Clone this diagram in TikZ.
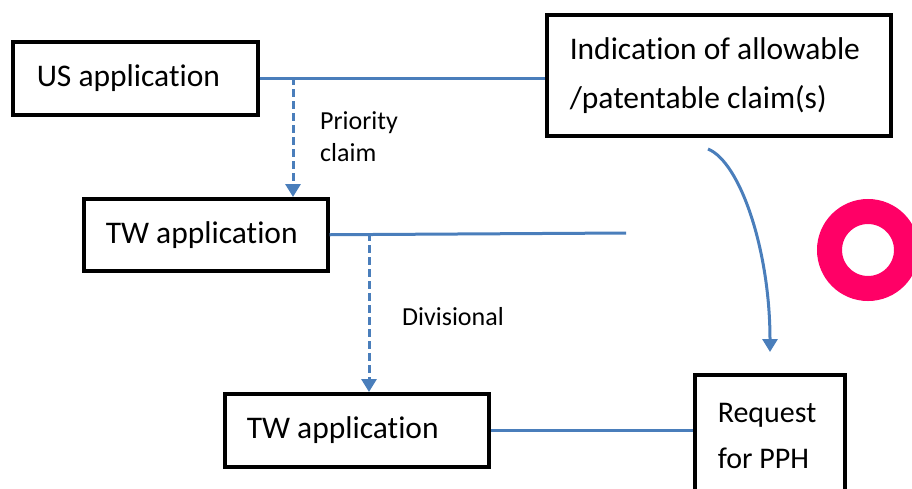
\documentclass[tikz,border=0pt]{standalone}
\usepackage{fontspec}
\setmainfont{Carlito}[Ligatures=NoCommon]
\usetikzlibrary{arrows.meta}
\definecolor{linkblue}{HTML}{4A7EBB}
\definecolor{ringpink}{HTML}{FF0066}

\begin{document}
\begin{tikzpicture}[x=1pt,y=-1pt,
  appbox/.style={draw,line width=3.5pt,anchor=north west,inner ysep=0pt,align=flush left},
  bigtxt/.style={font=\fontsize{31.5}{49}\selectfont},
  smalltxt/.style={font=\fontsize{26}{32}\selectfont,inner sep=0pt,align=flush left},
  link/.style={draw=linkblue,line width=3pt},
  tip/.style={-{Triangle[width=15pt,length=13pt]}},
  dlink/.style={link,tip,dash pattern=on 7.5pt off 4.5pt}]
\useasboundingbox (0,0) rectangle (912,488);
\clip (0,0) rectangle (912,488);
\node[appbox,bigtxt,inner xsep=24pt,text width=197pt,minimum height=73pt] (us) at (11,40) {US application};
\node[appbox,bigtxt,inner xsep=23pt,text width=298pt,minimum height=121pt] (ind) at (545,13) {Indication of allowable\\/patentable claim(s)};
\node[appbox,bigtxt,inner xsep=22pt,text width=200pt,minimum height=72pt] (tw1) at (82,197) {TW application};
\node[appbox,bigtxt,inner xsep=22pt,text width=220pt,minimum height=73pt] (tw2) at (223,392) {TW application};
\node[appbox,font=\fontsize{30}{46}\selectfont,inner xsep=23pt,text width=104pt,minimum height=123pt] (pph) at (693,373) {Request\\for PPH};
\node[smalltxt,anchor=north west] (prio) at (320,111) {Priority\\claim};
\node[smalltxt,anchor=base west] (divl) at (402,325) {Divisional};
\coordinate (usfork) at (293,77);
\coordinate (twfork) at (369,233);
\coordinate (twend) at (626,233);
\coordinate (cstart) at (708,149);
\coordinate (cend) at (770,352);
\draw[link] (us.east) -- (us.east -| ind.west);
\draw[dlink] (usfork) -- (usfork |- tw1.north);
\draw[link] (tw1.east) -- (twend);
\draw[dlink] (twfork) -- (twfork |- tw2.north);
\draw[link] (tw2.east) -- (tw2.east -| pph.west);
\draw[link,tip] (cstart) .. controls (740,162) and (770,250) .. (cend);
\draw[ringpink,line width=25pt] (868,250) circle[radius=38.5];
\end{tikzpicture}
\end{document}
